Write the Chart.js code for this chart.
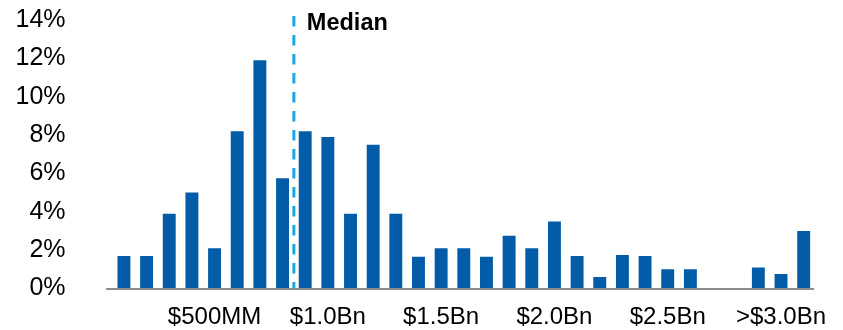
<!DOCTYPE html>
<html>
<head>
<meta charset="utf-8">
<script src="https://cdn.jsdelivr.net/npm/chart.js"></script>
<style>
  html, body { margin: 0; padding: 0; background: #fff; }
  #wrap { width: 843px; height: 330px; }
</style>
</head>
<body>
<div id="wrap"><canvas id="dist" width="843" height="330"></canvas></div>
<script>
// size buckets, labelled every fifth bin
const categories = [
  '', '', '', '', '$500MM', '', '', '', '', '$1.0Bn',
  '', '', '', '', '$1.5Bn', '', '', '', '', '$2.0Bn',
  '', '', '', '', '$2.5Bn', '', '', '', '', '>$3.0Bn', ''
];
// share of deals per bucket (%)
const shares = [
  1.7, 1.7, 3.9, 5.0, 2.1, 8.2, 11.9, 5.75, 8.2, 7.9,
  3.9, 7.5, 3.9, 1.65, 2.1, 2.1, 1.65, 2.75, 2.1, 3.5,
  1.7, 0.6, 1.75, 1.7, 1.0, 1.0, 0, 0, 1.1, 0.75, 3.0
];
const yTicks = [0, 2, 4, 6, 8, 10, 12, 14];
const medianAt = 7.5; // between the 8th and 9th bucket
const medianLabel = 'Median';

const barColor = '#025ca8';
const axisColor = '#8c8c8c';
const medianColor = '#1ba6e4';
const fontFamily = '"Liberation Sans", Arial, sans-serif';

const overlay = {
  id: 'overlay',
  afterDatasetsDraw(chart) {
    const { ctx, chartArea, scales } = chart;
    const y0 = scales.y.getPixelForValue(0);
    ctx.save();
    // baseline
    ctx.strokeStyle = axisColor;
    ctx.lineWidth = 2;
    ctx.beginPath();
    ctx.moveTo(chartArea.left - 6.5, y0 + 0.5);
    ctx.lineTo(chartArea.right - 1, y0 + 0.5);
    ctx.stroke();
    // median marker
    const mx = scales.x.getPixelForValue(medianAt);
    ctx.strokeStyle = medianColor;
    ctx.lineWidth = 3;
    ctx.setLineDash([10.5, 8.5]);
    ctx.beginPath();
    ctx.moveTo(mx, chartArea.top - 4);
    ctx.lineTo(mx, y0);
    ctx.stroke();
    ctx.setLineDash([]);
    ctx.fillStyle = '#000';
    ctx.font = 'bold 23.5px ' + fontFamily;
    ctx.textBaseline = 'middle';
    ctx.textAlign = 'left';
    ctx.fillText(medianLabel, mx + 13, chartArea.top + 4);
    ctx.restore();
  }
};

new Chart(document.getElementById('dist'), {
  type: 'bar',
  data: {
    labels: categories,
    datasets: [{
      data: shares,
      backgroundColor: barColor,
      barPercentage: 0.57,
      categoryPercentage: 1.0
    }]
  },
  options: {
    responsive: false,
    animation: false,
    layout: { autoPadding: false, padding: { left: 0, right: 28, top: 20, bottom: 0 } },
    plugins: { legend: { display: false }, tooltip: { enabled: false } },
    scales: {
      x: {
        grid: { display: false, drawTicks: false },
        border: { display: false },
        afterFit(scale) {
          scale.height = 41.5;
          scale.paddingLeft = scale.paddingRight = 0;
        },
        ticks: {
          autoSkip: false,
          maxRotation: 0,
          padding: 14,
          color: '#000',
          font: { family: fontFamily, size: 24 }
        }
      },
      y: {
        min: 0,
        max: 14,
        grid: { display: false, drawTicks: false },
        border: { display: false },
        afterFit(scale) {
          scale.width = 112.6;
          scale.paddingTop = scale.paddingBottom = 0;
        },
        afterBuildTicks(scale) { scale.ticks = yTicks.map(v => ({ value: v })); },
        ticks: {
          padding: 47,
          color: '#000',
          callback: v => v + '%',
          font: { family: fontFamily, size: 25 }
        }
      }
    }
  },
  plugins: [overlay]
});
</script>
</body>
</html>
